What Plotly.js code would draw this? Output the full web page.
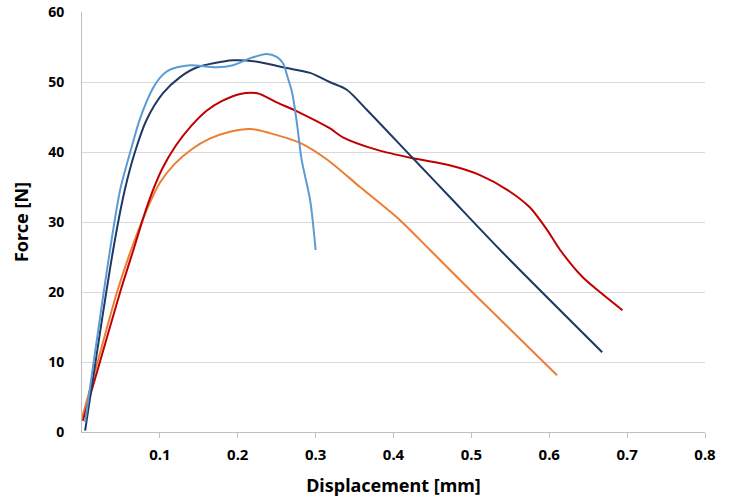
<!DOCTYPE html>
<html>
<head>
<meta charset="utf-8">
<script src="https://cdn.plot.ly/plotly-3.0.1.min.js"></script>
<style>html,body{margin:0;padding:0;background:#fff;}#chart{width:729px;height:503px;}</style>
</head>
<body>
<div id="chart"></div>
<script>
// Light blue specimen
const blueX = [0.004, 0.036, 0.049, 0.062, 0.074, 0.090, 0.100, 0.110, 0.122, 0.139, 0.173, 0.194, 0.216, 0.237, 0.250, 0.258, 0.264, 0.270, 0.276, 0.282, 0.293, 0.300];
const blueY = [1.4, 26, 34.6, 40, 44.6, 48.9, 50.6, 51.6, 52.1, 52.4, 52.1, 52.4, 53.4, 54.0, 53.6, 52.7, 50.7, 48.4, 44.1, 38.9, 33.1, 26];
// Navy specimen
const navyX = [0.004, 0.040, 0.055, 0.068, 0.083, 0.104, 0.126, 0.148, 0.194, 0.225, 0.258, 0.293, 0.318, 0.340, 0.366, 0.425, 0.472, 0.537, 0.668];
const navyY = [0.2, 26, 34.6, 40, 44.6, 48.4, 50.7, 52.1, 53.1, 52.9, 52.1, 51.3, 50, 48.9, 46, 39.1, 33.6, 26, 11.4];
// Red specimen
const redX = [0.001, 0.023, 0.049, 0.066, 0.085, 0.103, 0.121, 0.140, 0.160, 0.180, 0.203, 0.225, 0.250, 0.280, 0.318, 0.335, 0.379, 0.425, 0.472, 0.511, 0.546, 0.575, 0.597, 0.614, 0.643, 0.665, 0.694];
const redY = [1.6, 10, 20, 26, 32.7, 37.6, 41, 43.7, 45.9, 47.3, 48.3, 48.4, 47.1, 45.6, 43.4, 42.1, 40.3, 39.1, 38.1, 36.7, 34.6, 32.1, 28.9, 26, 22.1, 20, 17.4];
// Orange specimen
const orangeX = [0.000, 0.020, 0.045, 0.063, 0.083, 0.100, 0.119, 0.141, 0.164, 0.190, 0.216, 0.241, 0.280, 0.315, 0.357, 0.408, 0.447, 0.501, 0.610];
const orangeY = [2, 10, 20, 26, 31.7, 35.6, 38.3, 40.4, 41.9, 42.9, 43.3, 42.7, 41.3, 38.9, 35, 30.3, 26, 20, 8.1];

const xTicks = [0.1, 0.2, 0.3, 0.4, 0.5, 0.6, 0.7, 0.8];
const xTickText = ['0.1', '0.2', '0.3', '0.4', '0.5', '0.6', '0.7', '0.8'];
const yTicks = [0, 10, 20, 30, 40, 50, 60];

function tr(x, y, color) {
  return {x: x, y: y, type: 'scatter', mode: 'lines',
    line: {color: color, width: 2, shape: 'spline', smoothing: 0.8},
    showlegend: false, hoverinfo: 'skip'};
}

const data = [
  tr(orangeX, orangeY, '#ED7D31'),
  tr(redX, redY, '#C00000'),
  tr(navyX, navyY, '#1F3864'),
  tr(blueX, blueY, '#5B9BD5')
];

const font = "'Noto Sans', 'Open Sans', sans-serif";
const layout = {
  width: 729, height: 503,
  margin: {l: 82, r: 24, t: 12, b: 71},
  paper_bgcolor: '#fff', plot_bgcolor: '#fff',
  showlegend: false,
  font: {family: font, color: '#000'},
  xaxis: {
    range: [0, 0.8], tickvals: xTicks, ticktext: xTickText,
    showgrid: false, zeroline: false,
    showline: true, linecolor: '#BFBFBF', linewidth: 1,
    ticks: 'outside', ticklen: 5, tickcolor: '#BFBFBF',
    ticklabelstandoff: 4,
    tickfont: {family: font, size: 15, weight: 'bold', color: '#000'},
    title: {text: 'Displacement [mm]', font: {family: font, size: 18, weight: 'bold', color: '#000'}, standoff: 16},
    automargin: false, fixedrange: true
  },
  yaxis: {
    range: [0, 60], tickvals: yTicks,
    showgrid: true, gridcolor: '#D9D9D9', gridwidth: 1,
    zeroline: false,
    showline: true, linecolor: '#BFBFBF', linewidth: 1,
    ticks: '', ticklabelstandoff: 14,
    tickfont: {family: font, size: 14, weight: 'bold', color: '#000'},
    title: {text: 'Force [N]', font: {family: font, size: 18, weight: 'bold', color: '#000'}, standoff: 14},
    automargin: false, fixedrange: true
  }
};

Plotly.newPlot('chart', data, layout, {displayModeBar: false, staticPlot: true});
</script>
</body>
</html>
